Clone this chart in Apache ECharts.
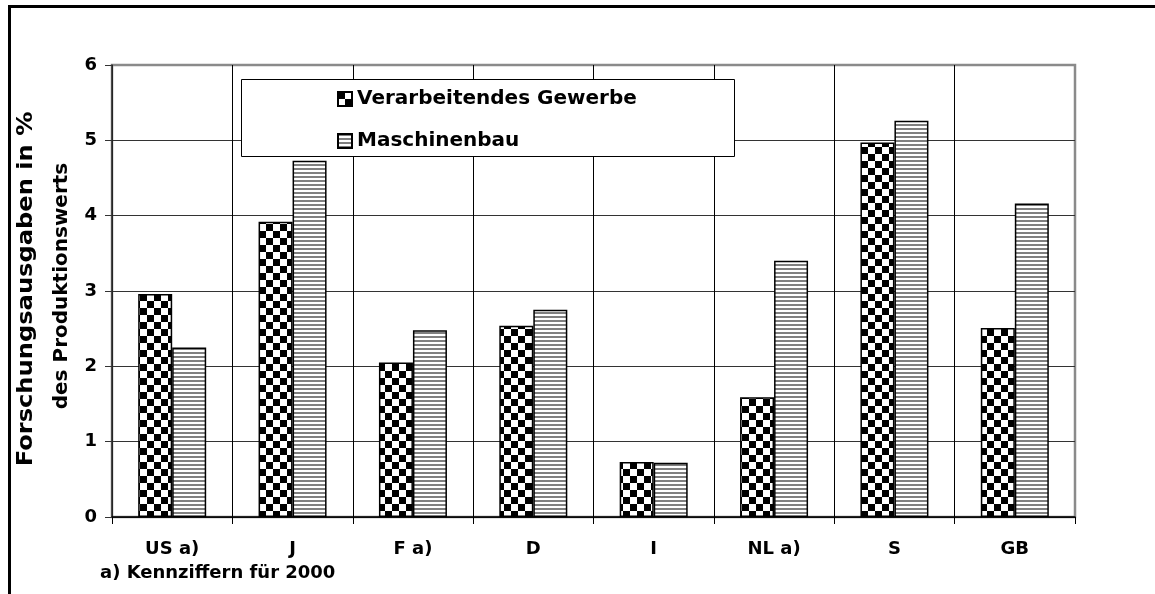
<!DOCTYPE html>
<html>
<head>
<meta charset="utf-8">
<script src="https://cdn.jsdelivr.net/npm/echarts@6/dist/echarts.min.js"></script>
<style>
  html, body { margin: 0; padding: 0; background: #fff; }
  #chart { width: 1155px; height: 594px; }
</style>
</head>
<body>
<div id="chart"></div>
<script>
const countries = ['US a)', 'J', 'F a)', 'D', 'I', 'NL a)', 'S', 'GB']
const verarbeitend = [2.96, 3.92, 2.05, 2.54, 0.73, 1.59, 4.97, 2.51]
const maschinenbau = [2.25, 4.73, 2.48, 2.75, 0.72, 3.40, 5.26, 4.16]
const yTicks = [0, 1, 2, 3, 4, 5, 6]

const FONT = '"DejaVu Sans", Arial, sans-serif'
const GRID_GREY = '#8a8a8a'

function checkerPattern() {
  const c = document.createElement('canvas')
  c.width = 14
  c.height = 14
  const ctx = c.getContext('2d')
  ctx.fillStyle = '#fff'
  ctx.fillRect(0, 0, 14, 14)
  ctx.fillStyle = '#000'
  ctx.fillRect(0, 0, 7, 7)
  ctx.fillRect(7, 7, 7, 7)
  return { image: c, repeat: 'repeat' }
}

function stripePattern() {
  const c = document.createElement('canvas')
  c.width = 4
  c.height = 4
  const ctx = c.getContext('2d')
  ctx.fillStyle = '#fff'
  ctx.fillRect(0, 0, 4, 4)
  ctx.fillStyle = '#808080'
  ctx.fillRect(0, 0, 4, 2)
  return { image: c, repeat: 'repeat' }
}

// top gridline and right category boundary sit on the grey plot frame
const ySplitColors = yTicks.map((t, i) => (i === yTicks.length - 1 ? GRID_GREY : '#333'))
const xSplitColors = countries.concat(['']).map((c, i) => (i === countries.length ? GRID_GREY : '#000'))

const chart = echarts.init(document.getElementById('chart'))

chart.setOption({
  backgroundColor: '#fff',
  animation: false,
  grid: {
    left: 112, top: 65, right: 80, bottom: 77,
    show: true, borderColor: GRID_GREY, borderWidth: 2.5, backgroundColor: 'transparent'
  },
  legend: {
    orient: 'vertical',
    left: 337, top: 88,
    padding: 0,
    icon: 'rect',
    itemWidth: 14, itemHeight: 14,
    itemGap: 20,
    z: 10,
    textStyle: { fontFamily: FONT, fontWeight: 'bold', fontSize: 20, color: '#000', lineHeight: 22 },
    data: ['Verarbeitendes Gewerbe', 'Maschinenbau']
  },
  xAxis: {
    type: 'category',
    data: countries,
    axisLine: { lineStyle: { color: '#000', width: 1.5 } },
    axisTick: { show: true, interval: 0, length: 7, lineStyle: { color: '#000' } },
    axisLabel: { interval: 0, margin: 23, fontFamily: FONT, fontWeight: 'bold', fontSize: 18, color: '#000' },
    splitLine: { show: true, interval: 0, lineStyle: { color: xSplitColors, width: 1 } }
  },
  yAxis: {
    type: 'value',
    min: yTicks[0],
    max: yTicks[yTicks.length - 1],
    interval: 1,
    axisLine: { show: true, lineStyle: { color: '#333', width: 1.5 } },
    axisTick: { show: true, length: 7, lineStyle: { color: '#333' } },
    axisLabel: { margin: 15, fontFamily: FONT, fontWeight: 'bold', fontSize: 18, color: '#000' },
    splitLine: { show: true, lineStyle: { color: ySplitColors, width: 1 } }
  },
  graphic: [
    {
      type: 'rect', z: 5,
      shape: { x: 241.5, y: 79.5, width: 493, height: 77 },
      style: { fill: '#fff', stroke: '#000', lineWidth: 1 }
    },
    {
      type: 'rect', z: 20, silent: true,
      shape: { x: 9.5, y: 6.5, width: 1160, height: 600 },
      style: { fill: 'none', stroke: '#000', lineWidth: 3 }
    },
    {
      type: 'text', z: 20,
      x: 27, y: 289, rotation: Math.PI / 2, scaleX: 1.15,
      style: {
        text: 'Forschungsausgaben in %',
        fontFamily: FONT, fontWeight: 'bold', fontSize: 21,
        fill: '#000', align: 'center', verticalAlign: 'middle'
      }
    },
    {
      type: 'text', z: 20,
      x: 62, y: 286, rotation: Math.PI / 2,
      style: {
        text: 'des Produktionswerts',
        fontFamily: FONT, fontWeight: 'bold', fontSize: 20,
        fill: '#000', align: 'center', verticalAlign: 'middle'
      }
    },
    {
      type: 'text', z: 20,
      x: 100, y: 573,
      style: {
        text: 'a) Kennziffern für 2000',
        fontFamily: FONT, fontWeight: 'bold', fontSize: 18,
        fill: '#000', align: 'left', verticalAlign: 'middle'
      }
    }
  ],
  series: [
    {
      name: 'Verarbeitendes Gewerbe',
      type: 'bar',
      data: verarbeitend,
      barWidth: 34,
      barGap: '0%',
      itemStyle: { color: checkerPattern(), borderColor: '#000', borderWidth: 1.5 }
    },
    {
      name: 'Maschinenbau',
      type: 'bar',
      data: maschinenbau,
      barWidth: 34,
      barGap: '0%',
      itemStyle: { color: stripePattern(), borderColor: '#000', borderWidth: 1.5 }
    }
  ]
})
</script>
</body>
</html>
